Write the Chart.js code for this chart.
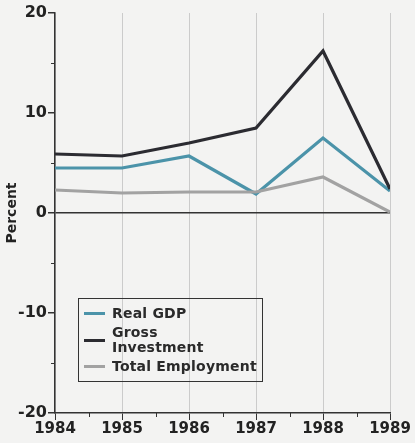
<!DOCTYPE html>
<html>
<head>
<meta charset="utf-8">
<script src="https://cdn.jsdelivr.net/npm/chart.js@4"></script>
<style>
  html, body { margin: 0; padding: 0; background: #f3f3f2; }
  #wrap { position: relative; width: 415px; height: 443px; }
  #legend {
    position: absolute; left: 78px; top: 298px; width: 185px; height: 84px;
    border: 1px solid #333; box-sizing: border-box; padding: 7px 0 0 5px;
    font: bold 14px "DejaVu Sans", sans-serif; color: #2a2a2a; letter-spacing: 0.2px;
  }
  .item { display: flex; align-items: center; line-height: 15px; margin-bottom: 4px; }
  .swatch { width: 21px; height: 3px; margin-right: 7px; flex: none; }
</style>
</head>
<body>
<div id="wrap">
  <canvas id="myChart" width="415" height="443"></canvas>
  <div id="legend"></div>
</div>
<script>
const years = [1984, 1985, 1986, 1987, 1988, 1989]
const realGdp = [4.5, 4.5, 5.7, 1.9, 7.5, 2.2]
const grossInvestment = [5.9, 5.7, 7.0, 8.5, 16.2, 2.4]
const totalEmployment = [2.3, 2.0, 2.1, 2.1, 3.6, 0.1]

const seriesNames = ['Real GDP', 'Gross\nInvestment', 'Total Employment']
const seriesColors = ['#4b93a9', '#2b2b31', '#a2a2a2']

const toPoints = (vals) => vals.map((v, i) => ({ x: years[i], y: v }))

// small ticks at half years and at the fives
const minorTicks = {
  id: 'minorTicks',
  afterDraw(chart) {
    const { ctx, scales: { x, y } } = chart
    ctx.save()
    ctx.strokeStyle = '#333'
    ctx.lineWidth = 1
    for (let v = 1984.5; v < 1989; v += 1) {
      const px = Math.round(x.getPixelForValue(v)) + 0.5
      ctx.beginPath()
      ctx.moveTo(px, y.bottom)
      ctx.lineTo(px, y.bottom + 4)
      ctx.stroke()
    }
    for (let v = -15; v <= 15; v += 10) {
      const py = Math.round(y.getPixelForValue(v)) + 0.5
      ctx.beginPath()
      ctx.moveTo(x.left - 4, py)
      ctx.lineTo(x.left, py)
      ctx.stroke()
    }
    ctx.restore()
  }
}

const canvas = document.getElementById('myChart')

const chart = new Chart(canvas, {
  type: 'line',
  data: {
    datasets: [realGdp, grossInvestment, totalEmployment].map((vals, i) => ({
      label: seriesNames[i],
      data: toPoints(vals),
      borderColor: seriesColors[i],
      backgroundColor: seriesColors[i],
      borderWidth: 3.2,
      pointRadius: 0,
      tension: 0
    })).reverse()
  },
  options: {
    responsive: false,
    animation: false,
    layout: { padding: { top: 13, right: 25, left: 4, bottom: 5 } },
    plugins: {
      legend: { display: false },
      tooltip: { enabled: false }
    },
    scales: {
      x: {
        type: 'linear',
        min: 1984,
        max: 1989,
        ticks: {
          stepSize: 1,
          color: '#222',
          padding: 0,
          font: { family: 'DejaVu Sans', weight: 'bold', size: 15 },
          callback: (v) => String(v)
        },
        grid: {
          color: '#cbcbcb',
          tickColor: '#333',
          tickLength: 7,
          lineWidth: 1
        },
        border: { color: '#333', width: 1.5 }
      },
      y: {
        min: -20,
        max: 20,
        afterFit: (scale) => { scale.width = 51 },
        ticks: {
          stepSize: 10,
          color: '#222',
          padding: 1,
          font: { family: 'DejaVu Sans', weight: 'bold', size: 16 }
        },
        grid: {
          color: (c) => c.tick && c.tick.value === 0 ? '#333' : 'rgba(0,0,0,0)',
          lineWidth: 1.5,
          tickColor: '#333',
          tickLength: 7
        },
        border: { color: '#333', width: 1.5 },
        title: {
          display: true,
          text: 'Percent',
          color: '#222',
          padding: 0,
          font: { family: 'DejaVu Sans', weight: 'bold', size: 14 }
        }
      }
    }
  },
  plugins: [minorTicks]
})

// legend box in the lower left of the plot
const legend = document.getElementById('legend')
chart.data.datasets.slice().reverse().forEach(ds => {
  const row = document.createElement('div')
  row.className = 'item'
  const sw = document.createElement('span')
  sw.className = 'swatch'
  sw.style.background = ds.borderColor
  const txt = document.createElement('span')
  txt.innerHTML = ds.label.replace('\n', '<br>')
  row.appendChild(sw)
  row.appendChild(txt)
  legend.appendChild(row)
})
</script>
</body>
</html>
